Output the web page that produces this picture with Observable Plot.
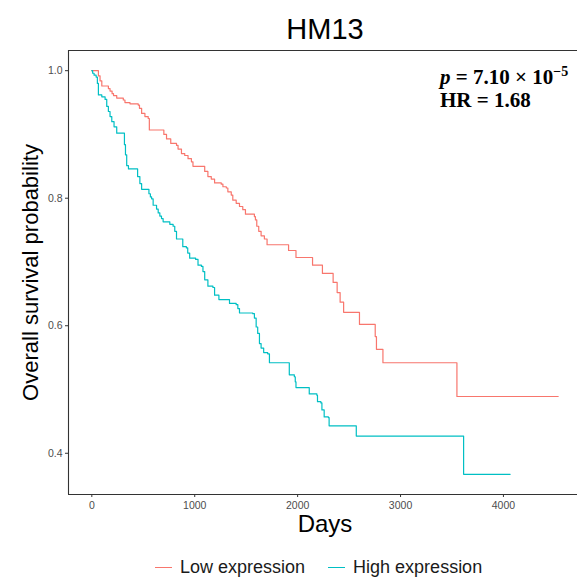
<!DOCTYPE html>
<html>
<head>
<meta charset="utf-8">
<script src="https://cdn.jsdelivr.net/npm/d3@7"></script>
<script src="https://cdn.jsdelivr.net/npm/@observablehq/plot@0.6"></script>
<style>
  html, body { margin: 0; padding: 0; background: #fff; overflow: hidden; }
  #wrap { position: relative; width: 577px; height: 579px; overflow: hidden; font-family: "Liberation Sans", Arial, sans-serif; }
  #chart svg { display: block; }
  #legend { position: absolute; left: 155px; top: 555px; height: 24px; display: flex; align-items: center; font-size: 18px; color: #1a1a1a; white-space: nowrap; }
  .sw { width: 17px; height: 0; border-top: 1.6px solid; margin-right: 8px; }
  .lab { margin-right: 23px; }
</style>
</head>
<body>
<div id="wrap"><div id="chart"></div>
<div id="legend"></div></div>
<script>
const title = "HM13";
const xLabel = "Days";
const yLabel = "Overall survival probability";
const groups = ["Low expression", "High expression"];
const colors = ["#F8766D", "#00BFC4"];
const xTicks = [0, 1000, 2000, 3000, 4000];
const yTicks = [0.4, 0.6, 0.8, 1.0];

const lowDays = [0, 64, 80, 97, 161, 177, 197, 211, 242, 306, 322, 371, 451, 463, 484, 516, 548, 559, 700, 726, 767, 823, 838, 871, 903, 935, 968, 983, 1097, 1128, 1161, 1193, 1258, 1274, 1307, 1322, 1355, 1370, 1403, 1435, 1467, 1493, 1580, 1590, 1603, 1622, 1645, 1677, 1703, 1912, 1984, 2145, 2241, 2345, 2384, 2413, 2447, 2601, 2754, 2766, 2829, 3548, 4532];
const lowSurv = [1, 0.992, 0.984, 0.976, 0.972, 0.968, 0.964, 0.961, 0.957, 0.954, 0.950, 0.948, 0.946, 0.941, 0.933, 0.928, 0.925, 0.907, 0.900, 0.893, 0.886, 0.883, 0.877, 0.870, 0.867, 0.862, 0.857, 0.850, 0.842, 0.834, 0.830, 0.824, 0.822, 0.818, 0.816, 0.810, 0.805, 0.797, 0.792, 0.787, 0.782, 0.775, 0.771, 0.766, 0.756, 0.748, 0.741, 0.736, 0.727, 0.718, 0.707, 0.695, 0.682, 0.668, 0.652, 0.637, 0.621, 0.602, 0.583, 0.563, 0.542, 0.489, 0.489];

const highDays = [0, 8, 22, 42, 54, 64, 97, 129, 145, 161, 177, 194, 216, 242, 317, 327, 339, 356, 445, 467, 484, 555, 569, 581, 596, 629, 645, 661, 677, 693, 758, 790, 806, 823, 884, 919, 932, 951, 1009, 1032, 1065, 1080, 1097, 1128, 1177, 1193, 1235, 1338, 1403, 1419, 1435, 1564, 1580, 1597, 1612, 1629, 1645, 1670, 1709, 1726, 1919, 1968, 1977, 1984, 2113, 2187, 2193, 2226, 2236, 2258, 2299, 2306, 2570, 3613, 4065];
const highSurv = [1, 0.996, 0.993, 0.990, 0.980, 0.962, 0.959, 0.955, 0.944, 0.936, 0.928, 0.920, 0.912, 0.902, 0.884, 0.868, 0.851, 0.846, 0.834, 0.823, 0.814, 0.807, 0.802, 0.799, 0.789, 0.783, 0.777, 0.772, 0.768, 0.763, 0.759, 0.756, 0.748, 0.736, 0.724, 0.722, 0.714, 0.706, 0.704, 0.695, 0.693, 0.685, 0.672, 0.662, 0.660, 0.648, 0.641, 0.635, 0.633, 0.627, 0.620, 0.619, 0.612, 0.598, 0.588, 0.572, 0.565, 0.558, 0.556, 0.542, 0.523, 0.520, 0.512, 0.503, 0.493, 0.491, 0.481, 0.479, 0.468, 0.457, 0.456, 0.443, 0.427, 0.367, 0.367];

const pText = ["p", " = 7.10 \u00D7 10", "\u22125"];
const hrText = "HR = 1.68";

const low = lowDays.map((d, i) => ({day: d, surv: lowSurv[i], group: groups[0]}));
const high = highDays.map((d, i) => ({day: d, surv: highSurv[i], group: groups[1]}));

const allDays = lowDays.concat(highDays), allSurv = lowSurv.concat(highSurv);
const xmin = d3.min(allDays), xmax = d3.max(allDays);
const ymin = d3.min(allSurv), ymax = d3.max(allSurv);
const xpad = (xmax - xmin) * 0.05, ypad = (ymax - ymin) * 0.05;

// The reference panel runs past the right edge of the picture (full panel 68..581 px, picture ends at 577)
const W = 577, mL = 68, fullRight = 581;
const x0 = xmin - xpad, x1full = xmax + xpad;
const x1 = x0 + (x1full - x0) * (W - mL) / (fullRight - mL);
const y0 = ymin - ypad, y1 = ymax + ypad;

const font = "'Liberation Sans', Arial, sans-serif";
const border = {stroke: "#333", strokeWidth: 1.1};
const plot = Plot.plot({
  width: W, height: 540,
  marginTop: 50, marginLeft: mL, marginRight: 0, marginBottom: 46,
  style: {fontFamily: font, background: "#fff"},
  x: {domain: [x0, x1], label: null},
  y: {domain: [y0, y1], label: null},
  marks: [
    Plot.axisX({ticks: xTicks, tickSize: 3, tickPadding: 4, fontSize: 10.5, tickFormat: "d", stroke: "#333", fill: "#4d4d4d", label: null}),
    Plot.axisY({ticks: yTicks, tickSize: 3, tickPadding: 3, fontSize: 10.5, tickFormat: ".1f", stroke: "#333", fill: "#4d4d4d", label: null}),
    Plot.line(low, {x: "day", y: "surv", curve: "step-after", stroke: colors[0], strokeWidth: 1.2}),
    Plot.line(high, {x: "day", y: "surv", curve: "step-after", stroke: colors[1], strokeWidth: 1.2}),
    Plot.ruleY([y0, y1], border),
    Plot.ruleX([x0], border),
    Plot.text([title], {text: d => d, frameAnchor: "top-left", lineAnchor: "middle", textAnchor: "middle", dx: (fullRight - mL) / 2, dy: -21, fontSize: 29, fill: "#000"}),
    Plot.text([xLabel], {text: d => d, frameAnchor: "bottom-left", lineAnchor: "middle", textAnchor: "middle", dx: (fullRight - mL) / 2, dy: 30, fontSize: 24, fill: "#000"}),
    Plot.text([yLabel], {text: d => d, frameAnchor: "left", lineAnchor: "middle", textAnchor: "middle", dx: -38, rotate: -90, fontSize: 22, fill: "#000"})
  ]
});
document.getElementById("chart").appendChild(plot);

const svg = d3.select(plot);
const ann = svg.append("g")
  .attr("font-family", "'Liberation Serif', 'Times New Roman', serif")
  .attr("text-anchor", "start")
  .attr("font-weight", "bold").attr("font-size", 21).attr("fill", "#000");
const t1 = ann.append("text").attr("x", 440).attr("y", 84);
t1.append("tspan").attr("font-style", "italic").text(pText[0]);
t1.append("tspan").text(pText[1]);
t1.append("tspan").attr("dy", -8).attr("font-size", 14).text(pText[2]);
ann.append("text").attr("x", 440).attr("y", 107).text(hrText);

const legend = d3.select("#legend");
groups.forEach((g, i) => {
  legend.append("div").attr("class", "sw").style("border-color", colors[i]);
  legend.append("div").attr("class", "lab").text(g);
});
</script>
</body>
</html>
